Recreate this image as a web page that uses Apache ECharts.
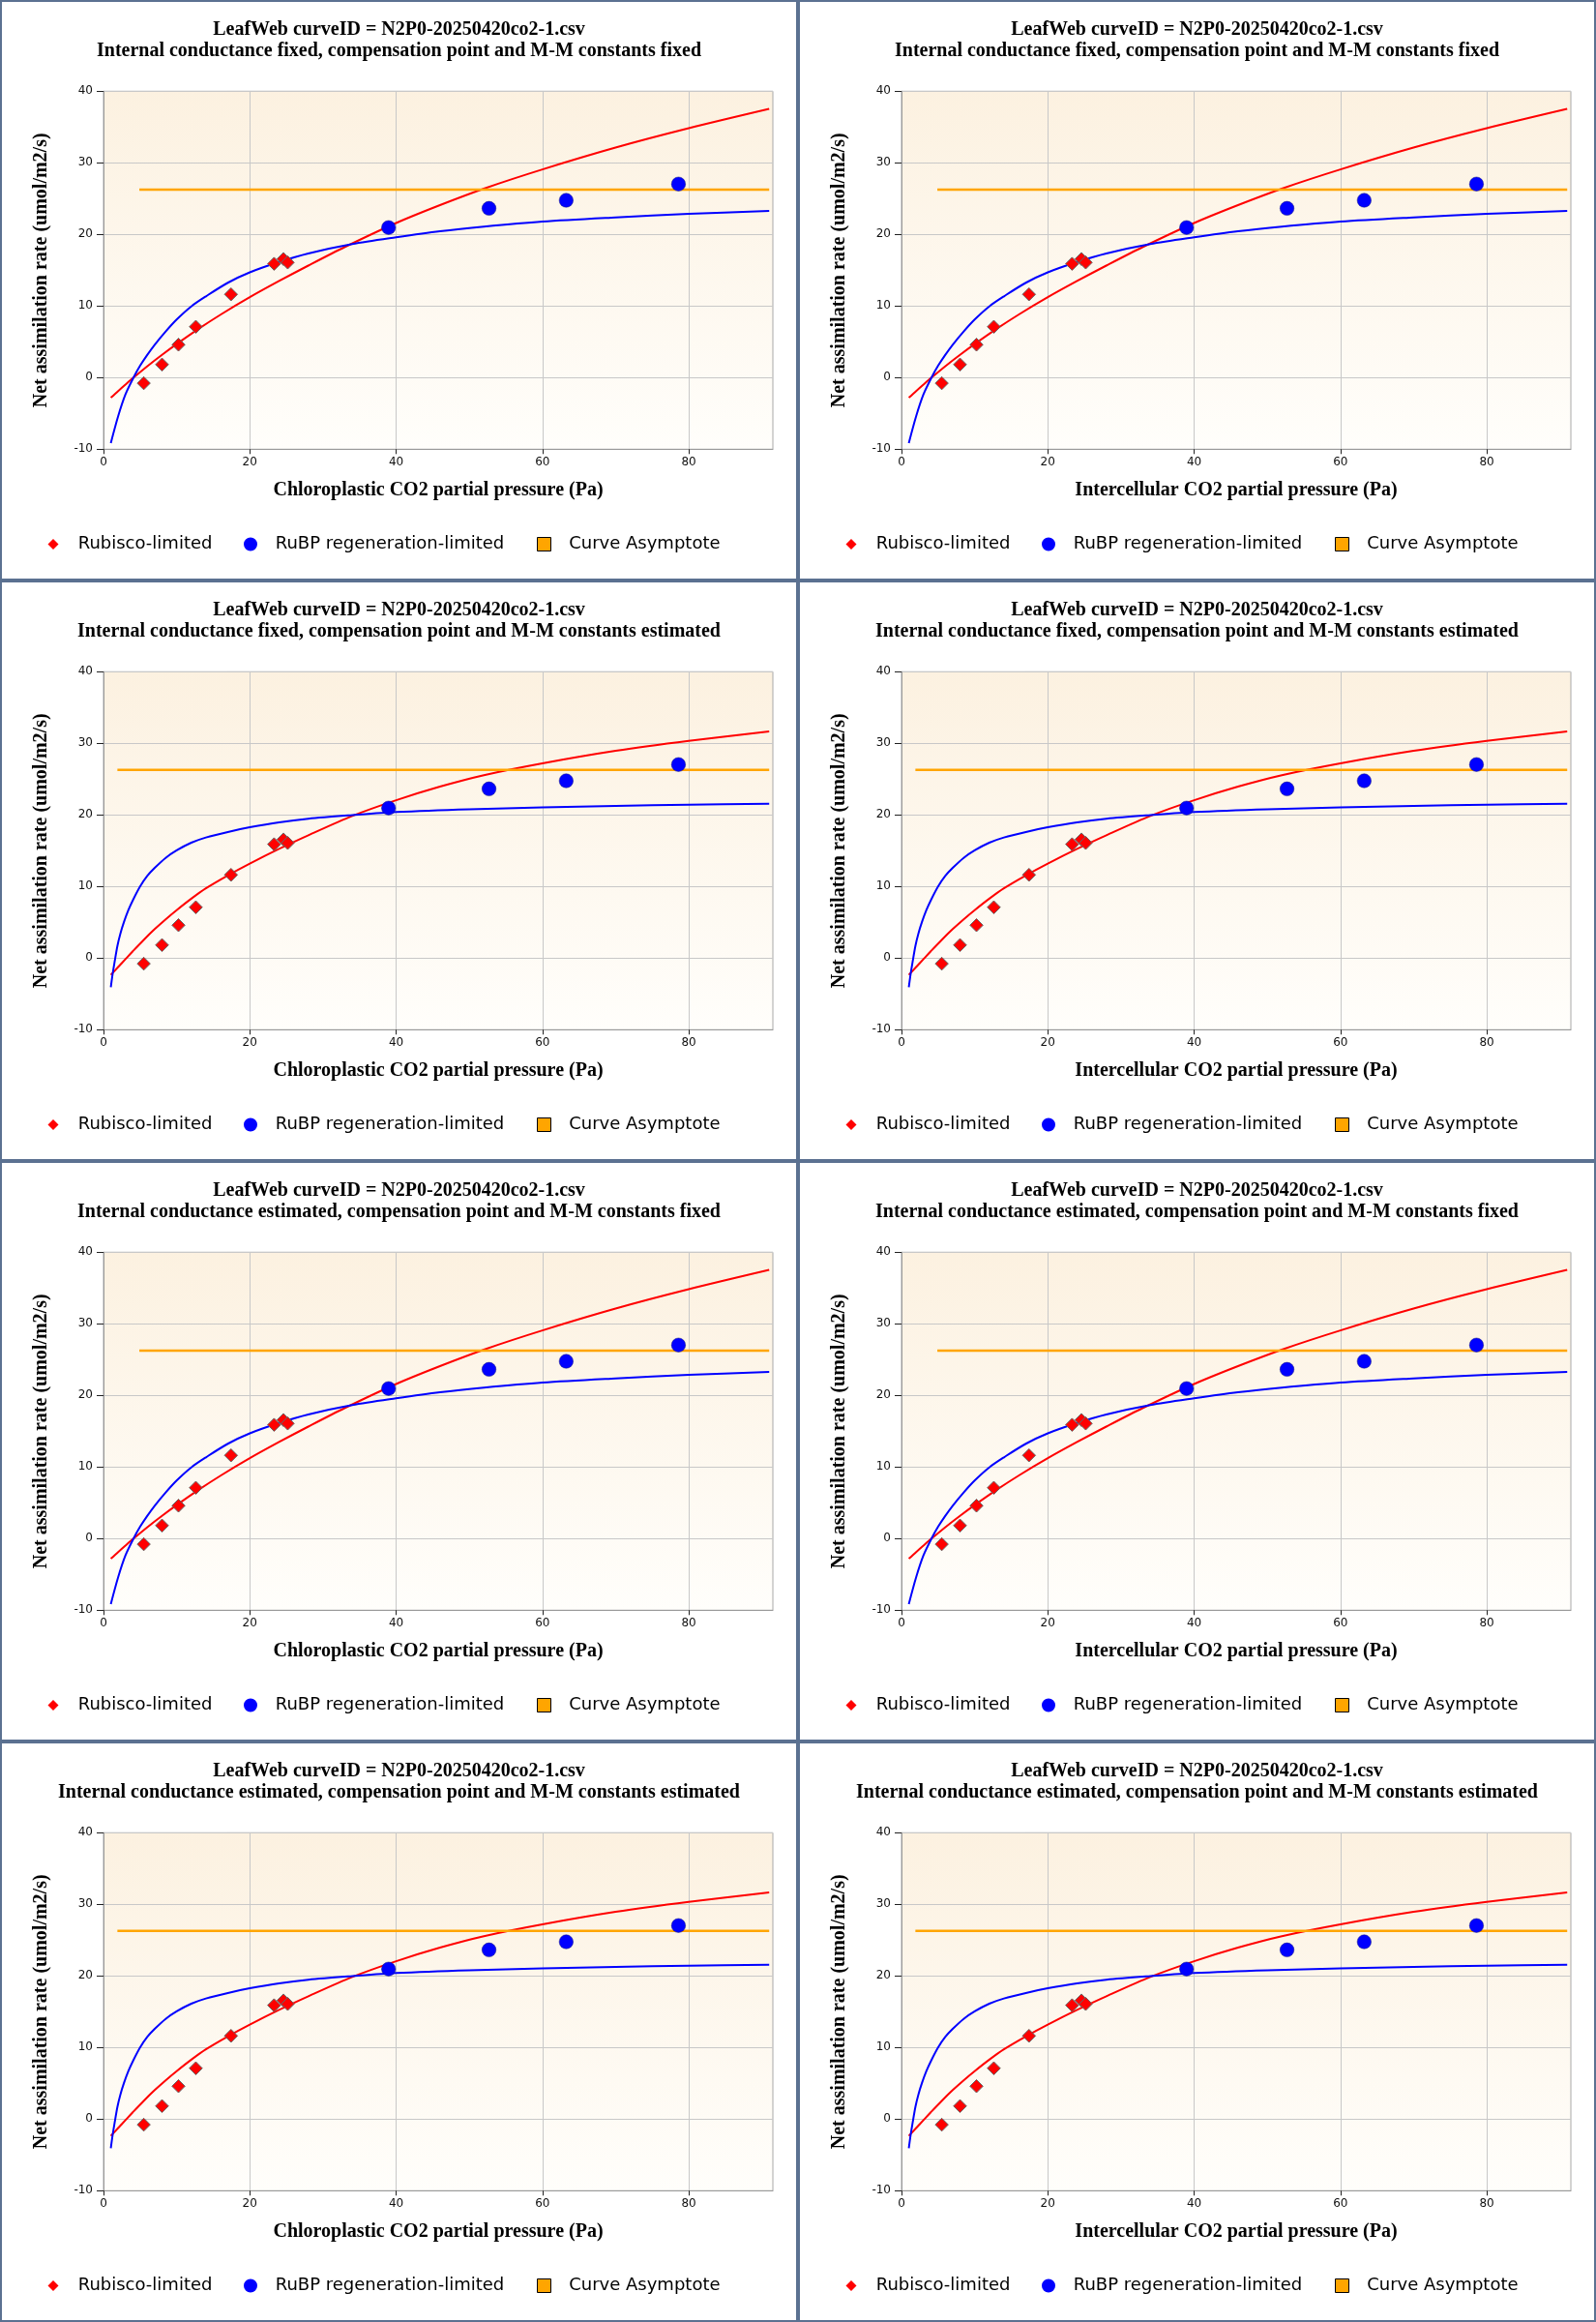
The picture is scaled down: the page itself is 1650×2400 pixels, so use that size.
<!DOCTYPE html>
<html>
<head>
<meta charset="utf-8">
<script src="https://cdn.jsdelivr.net/npm/echarts@6.0.0/dist/echarts.min.js"></script>
<style>
html,body{margin:0;padding:0;background:#ffffff;}
#wrap{position:relative;width:1650px;height:2400px;overflow:hidden;}
.panel{position:absolute;width:825px;height:600px;}
.frame{position:absolute;width:825px;height:600px;box-sizing:border-box;border:2px solid #5b7191;pointer-events:none;}
</style>
</head>
<body>
<div id="wrap"></div>
<script>
// ---------------- data ----------------
const titleLine1 = 'LeafWeb curveID = N2P0-20250420co2-1.csv';
const rowSubtitles = [
  'Internal conductance fixed, compensation point and M-M constants fixed',
  'Internal conductance fixed, compensation point and M-M constants estimated',
  'Internal conductance estimated, compensation point and M-M constants fixed',
  'Internal conductance estimated, compensation point and M-M constants estimated'
];
const xAxisNames = ['Chloroplastic CO2 partial pressure (Pa)', 'Intercellular CO2 partial pressure (Pa)'];
const yAxisName = 'Net assimilation rate (umol/m2/s)';
const legendNames = ['Rubisco-limited', 'RuBP regeneration-limited', 'Curve Asymptote'];
const xTicks = [0, 20, 40, 60, 80];
const yTicks = [-10, 0, 10, 20, 30, 40];

// observed points
const rubiscoObsX = [5.5, 8.0, 10.25, 12.62, 17.43, 23.32, 24.6, 25.18];
const rubiscoObsY = [-0.78, 1.82, 4.6, 7.1, 11.63, 15.9, 16.57, 16.08];
const rubpObsX = [38.97, 52.7, 63.25, 78.6];
const rubpObsY = [20.96, 23.64, 24.77, 27.04];

// fitted curves: compensation point and M-M constants fixed
const fixedRubiscoCurveX = [1, 2, 3, 4.1, 6, 8, 10, 13, 16, 20, 24, 28, 33, 40, 46, 52, 60, 70, 80, 91];
const fixedRubiscoCurveY = [-2.8, -1.87, -0.97, 0, 1.6, 3.18, 4.68, 6.81, 8.79, 11.23, 13.49, 15.65, 18.25, 21.6, 24.1, 26.4, 29.08, 32.13, 34.83, 37.53];
const fixedRubpCurveX = [1, 2, 3, 4.1, 5, 6, 7, 8.5, 10, 12, 14, 17, 20, 24, 28, 34, 40, 46, 52, 60, 70, 80, 91];
const fixedRubpCurveY = [-9.15, -5.4, -2.35, 0, 1.65, 3.2, 4.6, 6.45, 8.12, 9.95, 11.35, 13.25, 14.7, 16.15, 17.35, 18.65, 19.6, 20.45, 21.1, 21.8, 22.38, 22.88, 23.28];
const fixedAsymptoteX = [4.9, 91];
const fixedAsymptoteY = [26.27, 26.27];

// fitted curves: compensation point and M-M constants estimated
const estRubiscoCurveX = [1, 2, 3, 4, 5.5, 7, 8.5, 10, 12, 14, 17, 20, 24, 28, 34, 40, 46, 52, 60, 70, 80, 91];
const estRubiscoCurveY = [-2.35, -1.25, -0.15, 0.95, 2.55, 4.05, 5.42, 6.7, 8.3, 9.75, 11.55, 13.2, 15.25, 17.15, 19.85, 22.05, 23.95, 25.55, 27.2, 28.95, 30.35, 31.66];
const estRubpCurveX = [1, 1.25, 1.5, 1.9, 2.3, 2.8, 3.4, 4, 5, 6, 7, 8.5, 10, 12, 14, 17, 20, 24, 28, 34, 40, 50, 60, 70, 80, 91];
const estRubpCurveY = [-4.05, -2.2, -0.65, 1.7, 3.4, 5.05, 6.7, 8.05, 10.0, 11.5, 12.6, 14.0, 15.05, 16.12, 16.85, 17.62, 18.27, 18.97, 19.47, 19.97, 20.4, 20.8, 21.05, 21.27, 21.43, 21.57];
const estAsymptoteX = [1.9, 91];
const estAsymptoteY = [26.3, 26.3];

// ---------------- build ----------------
function zip(xs, ys) { return xs.map((x, i) => [x, ys[i]]); }

const variants = {
  fixed: {
    rub: zip(fixedRubiscoCurveX, fixedRubiscoCurveY),
    rubp: zip(fixedRubpCurveX, fixedRubpCurveY),
    asym: zip(fixedAsymptoteX, fixedAsymptoteY)
  },
  est: {
    rub: zip(estRubiscoCurveX, estRubiscoCurveY),
    rubp: zip(estRubpCurveX, estRubpCurveY),
    asym: zip(estAsymptoteX, estAsymptoteY)
  }
};

const SERIF = '"Liberation Serif", "Times New Roman", serif';
const SANS = '"DejaVu Sans", Verdana, sans-serif';
const diamondIcon = 'path://M0,0M14,14M7,1.5L12.5,7L7,12.5L1.5,7Z';
const squareIcon = 'path://M0,0L14,0L14,14L0,14Z';
const circleIcon = 'path://M0,7A7,7,0,1,1,14,7A7,7,0,1,1,0,7Z';

const legendIcons = [
  { icon: diamondIcon, itemStyle: { color: '#ff0000', borderWidth: 0 } },
  { icon: circleIcon, itemStyle: { color: '#0000ff', borderWidth: 0 } },
  { icon: squareIcon, itemStyle: { color: '#ffa500', borderColor: '#000000', borderWidth: 1 } }
];
// left edge of each legend icon box
const legendLefts = [48, 252, 555];

const wrap = document.getElementById('wrap');

function makeLegend(i) {
  return {
    left: legendLefts[i], top: 552.5, padding: 0,
    orient: 'horizontal',
    itemWidth: 41.4, itemHeight: 14,
    symbolKeepAspect: true,
    selectedMode: false,
    textStyle: { fontFamily: SANS, fontSize: 18, lineHeight: 20, color: '#000' },
    data: [Object.assign({ name: legendNames[i] }, legendIcons[i])]
  };
}

for (let r = 0; r < 4; r++) {
  for (let c = 0; c < 2; c++) {
    const div = document.createElement('div');
    div.className = 'panel';
    div.style.left = (c * 825) + 'px';
    div.style.top = (r * 600) + 'px';
    wrap.appendChild(div);
    const frame = document.createElement('div');
    frame.className = 'frame';
    frame.style.left = (c * 825) + 'px';
    frame.style.top = (r * 600) + 'px';
    wrap.appendChild(frame);

    const v = (r % 2 === 0) ? variants.fixed : variants.est;
    const chart = echarts.init(div, null, { renderer: 'canvas', width: 825, height: 600 });
    const titleStyle = { fontFamily: SERIF, fontWeight: 'bold', fontSize: 20, lineHeight: 22, color: '#000' };
    chart.setOption({
      animation: false,
      backgroundColor: 'transparent',
      title: [
        { text: titleLine1, left: 'center', top: 19.6, padding: 0, textStyle: titleStyle },
        { text: rowSubtitles[r], left: 'center', top: 41.5, padding: 0, textStyle: titleStyle }
      ],
      grid: {
        left: 107, top: 94.3, width: 692, height: 370,
        show: true,
        borderColor: '#a8a8a8', borderWidth: 1,
        backgroundColor: {
          type: 'linear', x: 0, y: 0, x2: 0, y2: 1,
          colorStops: [{ offset: 0, color: '#fcf1e0' }, { offset: 1, color: '#fffefb' }]
        },
        containLabel: false,
        outerBoundsMode: 'none'
      },
      legend: [makeLegend(0), makeLegend(1), makeLegend(2)],
      xAxis: {
        type: 'value', min: 0, max: 91.5, interval: 20,
        name: xAxisNames[c], nameLocation: 'middle', nameGap: 33,
        nameTextStyle: { fontFamily: SERIF, fontWeight: 'bold', fontSize: 20, color: '#000' },
        axisLine: { show: true, onZero: false, lineStyle: { color: '#999999', width: 1 } },
        axisTick: { show: true, length: 5, inside: false, customValues: xTicks, lineStyle: { color: '#222', width: 1 } },
        axisLabel: { show: true, margin: 8, customValues: xTicks, fontFamily: SANS, fontSize: 12, color: '#111' },
        splitLine: { show: true, lineStyle: { color: '#c8c8c8', width: 1 } }
      },
      yAxis: {
        type: 'value', min: -10, max: 40, interval: 10,
        name: yAxisName, nameLocation: 'middle', nameGap: 54, nameRotate: 90,
        nameTextStyle: { fontFamily: SERIF, fontWeight: 'bold', fontSize: 20, color: '#000' },
        axisLine: { show: true, onZero: false, lineStyle: { color: '#999999', width: 1 } },
        axisTick: { show: true, length: 7, inside: false, customValues: yTicks, lineStyle: { color: '#222', width: 1 } },
        axisLabel: { show: true, margin: 11, customValues: yTicks, fontFamily: SANS, fontSize: 12, color: '#111' },
        splitLine: { show: true, lineStyle: { color: '#c8c8c8', width: 1 } }
      },
      series: [
        {
          name: 'Rubisco-limited fit', type: 'line', data: v.rub, symbol: 'none', showSymbol: false,
          smooth: 0.3, silent: true,
          lineStyle: { color: '#ff0000', width: 2 }, itemStyle: { color: '#ff0000' }, z: 2
        },
        {
          name: 'RuBP regeneration-limited fit', type: 'line', data: v.rubp, symbol: 'none', showSymbol: false,
          smooth: 0.3, silent: true,
          lineStyle: { color: '#0000ff', width: 2 }, itemStyle: { color: '#0000ff' }, z: 2
        },
        {
          name: legendNames[2], type: 'line', data: v.asym, symbol: 'none', showSymbol: false, silent: true,
          lineStyle: { color: '#ffa500', width: 2.5 }, itemStyle: { color: '#ffa500' }, z: 2
        },
        {
          name: legendNames[0], type: 'scatter', data: zip(rubiscoObsX, rubiscoObsY),
          symbol: 'diamond', symbolSize: 13.5, silent: true,
          itemStyle: { color: '#ff0000', borderColor: '#666666', borderWidth: 1, opacity: 1 }, z: 3
        },
        {
          name: legendNames[1], type: 'scatter', data: zip(rubpObsX, rubpObsY),
          symbol: 'circle', symbolSize: 14.5, silent: true,
          itemStyle: { color: '#0000ff', borderColor: '#1a1a80', borderWidth: 0.5, opacity: 1 }, z: 3
        }
      ]
    });
  }
}
</script>
</body>
</html>
